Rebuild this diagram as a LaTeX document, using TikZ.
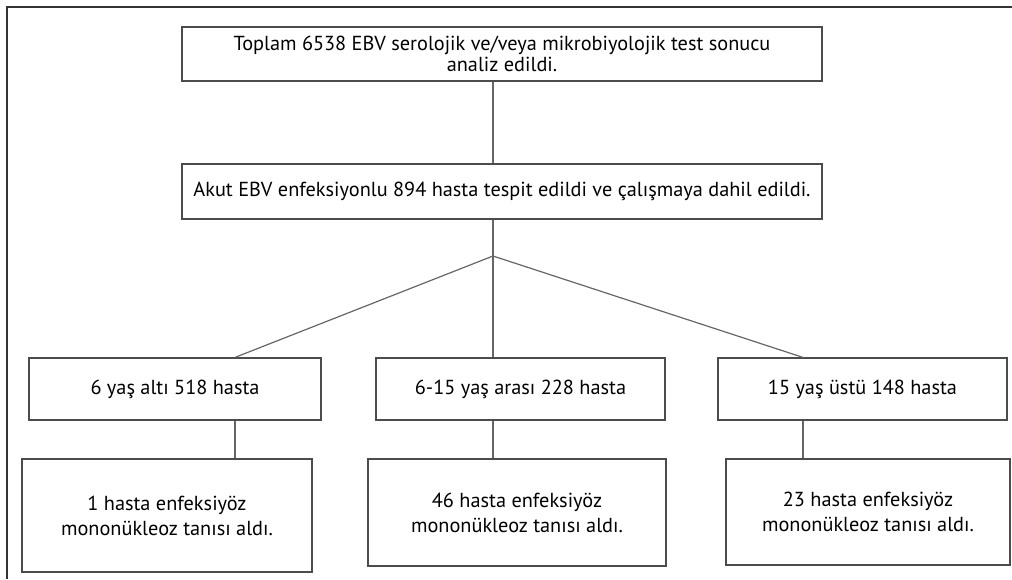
\documentclass[tikz,border=0pt]{standalone}
\usepackage{fontspec}
\setmainfont{PT Sans}
\usetikzlibrary{calc}

\tikzset{
  box/.style={draw=black!70,line width=1.2pt,align=center,inner sep=0pt,
    font=\fontsize{20.3}{21.5}\selectfont},
  resbox/.style={box,font=\fontsize{20.3}{25}\selectfont},
  link/.style={draw=black!60,line width=1.2pt}
}

\begin{document}
\begin{tikzpicture}[x=1pt,y=-1pt]
  \useasboundingbox (0,0) rectangle (1012,579);
  % outer frame
  \draw[black!80,line width=1.2pt] (7,579) -- (7,7) -- (1012,7);
  % boxes
  \node[box,minimum width=640,minimum height=54] (total) at (502,54)
    {Toplam 6538 EBV serolojik ve/veya mikrobiyolojik test sonucu\\analiz edildi.};
  \node[box,minimum width=640,minimum height=55] (acute) at (502,191.5)
    {Akut EBV enfeksiyonlu 894 hasta tespit edildi ve çalışmaya dahil edildi.};
  \node[box,minimum width=292,minimum height=62] (under6) at (175,389) {6 yaş altı 518 hasta};
  \node[box,minimum width=289,minimum height=62] (mid) at (520.5,389) {6-15 yaş arası 228 hasta};
  \node[box,minimum width=289,minimum height=62] (over15) at (862.5,389) {15 yaş üstü 148 hasta};
  \node[resbox,minimum width=290,minimum height=113] (res1) at (167,515.5)
    {1 hasta enfeksiyöz\\mononükleoz tanısı aldı.};
  \node[resbox,minimum width=298,minimum height=107] (res2) at (517,512.5)
    {46 hasta enfeksiyöz\\mononükleoz tanısı aldı.};
  \node[resbox,minimum width=284,minimum height=106] (res3) at (868,512)
    {23 hasta enfeksiyöz\\mononükleoz tanısı aldı.};
  % connectors
  \coordinate (split) at (493,256);
  \coordinate (left) at (235,0);
  \coordinate (right) at (803,0);
  \draw[link] (total.south -| split) -- (acute.north -| split);
  \draw[link] (acute.south -| split) -- (split) -- (mid.north -| split);
  \draw[link] (split) -- (under6.north -| left);
  \draw[link] (split) -- (over15.north -| right);
  \draw[link] (under6.south -| left) -- (res1.north -| left);
  \draw[link] (mid.south -| split) -- (res2.north -| split);
  \draw[link] (over15.south -| right) -- (res3.north -| right);
\end{tikzpicture}
\end{document}
